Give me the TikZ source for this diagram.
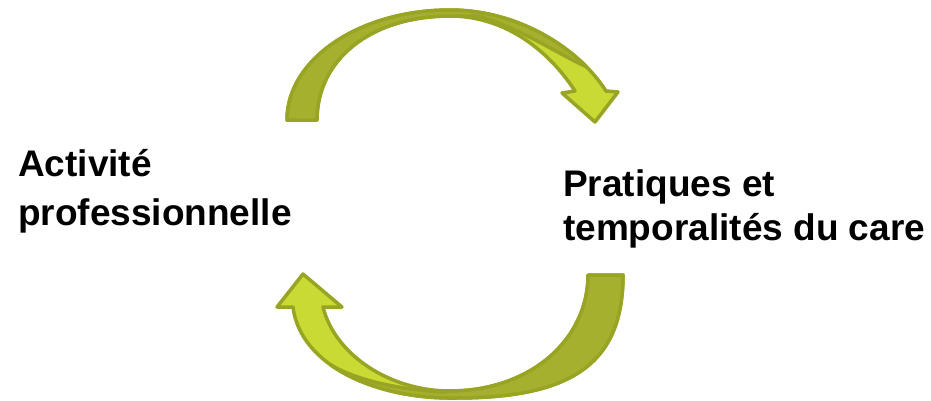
\documentclass[tikz,border=0pt]{standalone}
\usepackage{fontspec}
\setmainfont{Liberation Sans}
\definecolor{arrowdark}{RGB}{165,176,46}
\definecolor{arrowlight}{RGB}{201,218,52}
\definecolor{arrowline}{RGB}{152,164,35}
\tikzset{
  arrowbody/.style={fill=arrowlight, draw=arrowline, line width=3.5pt, line join=round},
  arrowback/.style={fill=arrowdark, draw=arrowline, line width=3.5pt, line join=round},
  label/.style={inner sep=0pt, align=left, font=\bfseries\fontsize{37}{49}\selectfont},
}
\begin{document}
\begin{tikzpicture}[x=1pt,y=-1pt]
\useasboundingbox (0,0) rectangle (931,400);

% ---- top arrow (left to right) ----
\path[arrowbody]
  (287,120) .. controls (287,59) and (360,10) .. (450,10)
            .. controls (520,10) and (580,50) .. (606,91)
  -- (618,92) -- (595,122) -- (562,93) -- (575,91)
            .. controls (545,45) and (500,16) .. (450,16)
            .. controls (370,16) and (317,60) .. (317,120)
  -- cycle;
\path[arrowback]
  (287,120) .. controls (287,59) and (360,10) .. (450,10)
            .. controls (506,10) and (555.6,35.6) .. (586.5,66.8)
            .. controls (560,55) and (520,28) .. (478,16)
  -- (450,16)
            .. controls (370,16) and (317,60) .. (317,120)
  -- cycle;

% ---- bottom arrow (right to left) ----
\path[arrowbody]
  (623,275) .. controls (623,365) and (570,398) .. (455,398)
            .. controls (375,399) and (300,365) .. (293,307)
  -- (277,307) -- (303,274) -- (342,307) -- (323,307)
            .. controls (335,355) and (390,391) .. (450,391)
            .. controls (530,391) and (588,340) .. (588,275)
  -- cycle;
\path[arrowback]
  (623,275) .. controls (623,365) and (570,398) .. (455,398)
            .. controls (407,398.6) and (360.8,386.6) .. (330,364.4)
            .. controls (355,380) and (400,390) .. (445,392)
  -- (450,391)
            .. controls (530,391) and (588,340) .. (588,275)
  -- cycle;

% ---- labels ----
\node[label, anchor=base west] (act) at (18,225) {Activité\\professionnelle};
\node[label, anchor=base west, font=\bfseries\fontsize{37}{44}\selectfont] (care) at (563,240) {Pratiques et\\temporalités du care};
\end{tikzpicture}
\end{document}
